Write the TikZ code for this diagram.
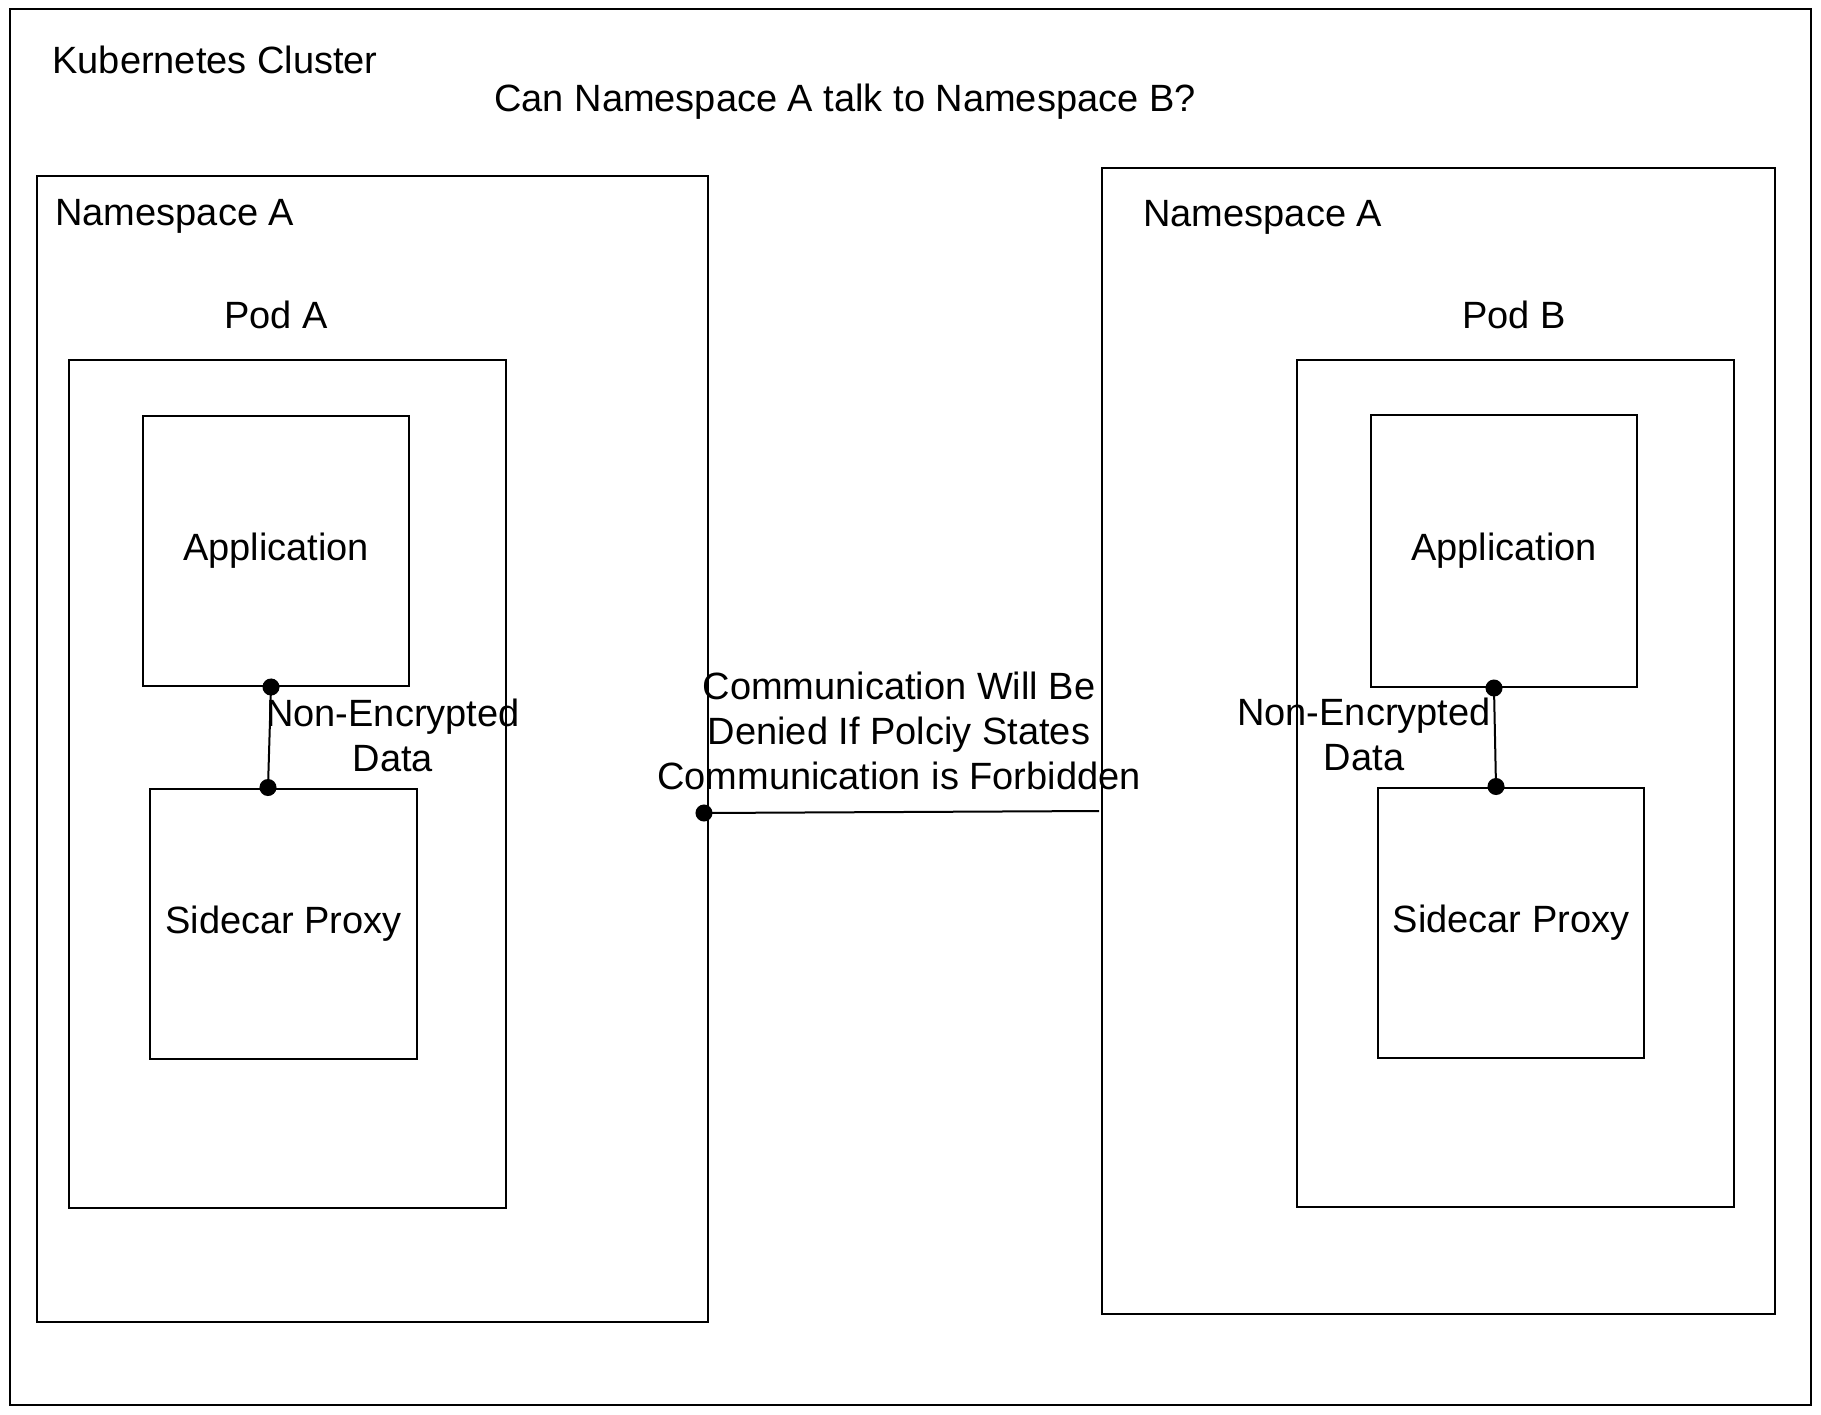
\documentclass[tikz,border=0pt]{standalone}
\usepackage{fontspec}
\setmainfont{Liberation Sans}
\usepackage{tikz}
\usetikzlibrary{arrows.meta}

\newcommand{\hand}{\fontsize{19}{22.5}\selectfont}

\tikzset{
  grp/.style={draw, line width=1pt, inner sep=0pt},
  compbox/.style={grp, minimum width=133pt, minimum height=135pt},
  txt/.style={inner sep=0pt},
  link/.style={line width=1pt},
  dotlink/.style={link, {Circle[length=8.5pt]}-{Circle[length=8.5pt]}, shorten <=-4.25pt, shorten >=-4.25pt}
}

\begin{document}
\begin{tikzpicture}[x=0.5pt,y=0.5pt,yscale=-1,xscale=1, every node/.append style={font=\hand}]
\fill[white] (0,0) rectangle (1821,1414);
\useasboundingbox (0,0) rectangle (1821,1414);

%Shape: Rectangle (cluster)
\node[grp, minimum width=900.5pt, minimum height=698pt] (cluster) at (910.5,707) {};
%Shape: Rectangle (namespaces)
\node[grp, minimum width=335.5pt, minimum height=573pt] (nsA) at (372.5,749) {};
\node[grp, minimum width=336.5pt, minimum height=573pt] (nsB) at (1438.5,741) {};
%Shape: Rectangle (pods)
\node[grp, minimum width=218.5pt, minimum height=424pt] (podA) at (287.5,784) {};
\node[grp, minimum width=218.5pt, minimum height=423.5pt] (podB) at (1515.5,783.5) {};

%Shape: Rectangle (containers)
\node[compbox] (appA) at (276,551) {Application};
\node[compbox, minimum width=133.5pt] (proxyA) at (283.5,923.5) {Sidecar Proxy};
\node[compbox, minimum height=136pt] (appB) at (1504,551) {Application};
\node[compbox] (proxyB) at (1511,922.5) {Sidecar Proxy};

% Text Node
\node[txt, anchor=west] (clustertitle) at (52,60) {Kubernetes Cluster};
% Text Node
\node[txt] (question) at (845,102) {Can Namespace A talk to Namespace B?};
% Text Node
\node[txt, anchor=west] (nsAtitle) at (55,216) {Namespace A};
% Text Node
\node[txt, anchor=west] (nsBtitle) at (1143,217) {Namespace A};
% Text Node
\node[txt] (podAtitle) at (276,315) {Pod A};
% Text Node
\node[txt] (podBtitle) at (1514,315) {Pod B};
% Text Node
\node[txt, align=center] (dataA) at (393,735) {Non-Encrypted\\Data};
% Text Node
\node[txt, align=center] (dataB) at (1364,734) {Non-Encrypted\\Data};
% Text Node
\node[txt, align=center] (policy) at (899,731) {Communication Will Be\\Denied If Polciy States\\Communication is Forbidden};

%Straight Lines
\draw[dotlink] ([xshift=-2.5pt]appA.south) -- ([xshift=-7.75pt]proxyA.north);
%Straight Lines
\draw[dotlink] ([xshift=-5pt]appB.south) -- ([xshift=-7.5pt]proxyB.north);
%Straight Lines
\draw[link, {Circle[length=8.5pt]}-, shorten <=-4.25pt] ([xshift=-2.5pt,yshift=32pt]nsA.east) -- ([xshift=-1pt,yshift=35pt]nsB.west);

\end{tikzpicture}
\end{document}
